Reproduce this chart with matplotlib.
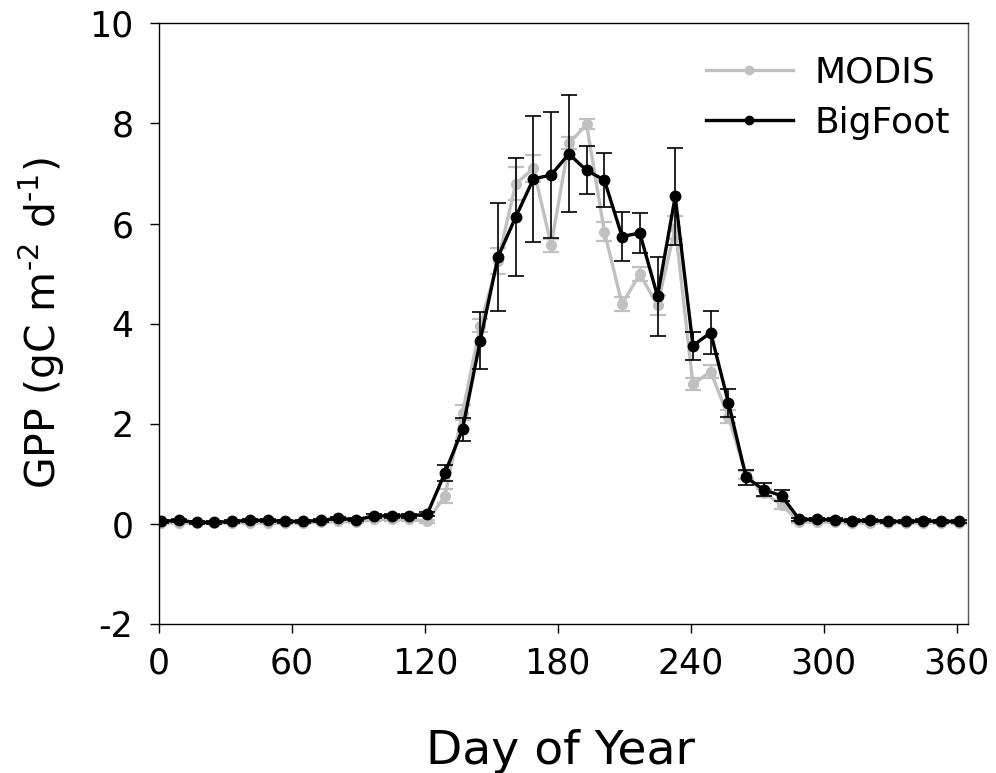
import matplotlib
matplotlib.use("Agg")
import matplotlib.pyplot as plt
from matplotlib.lines import Line2D

plt.rcParams['font.family'] = ['DejaVu Sans']
plt.rcParams['axes.unicode_minus'] = False

days = [1, 9, 17, 25, 33, 41, 49, 57, 65, 73, 81, 89, 97, 105, 113, 121,
        129, 137, 145, 153, 161, 169, 177, 185, 193, 201, 209, 217, 225, 233,
        241, 249, 257, 265, 273, 281, 289, 297, 305, 313, 321, 329, 337, 345,
        353, 361]

bigfoot = [0.05, 0.07, 0.03, 0.03, 0.05, 0.07, 0.07, 0.05, 0.05, 0.07, 0.11,
           0.08, 0.16, 0.16, 0.16, 0.19,
           1.01, 1.89, 3.66, 5.33, 6.13, 6.89, 6.97, 7.39, 7.06, 6.87, 5.74,
           5.81, 4.55, 6.54, 3.56, 3.82, 2.42, 0.93, 0.68, 0.56,
           0.09, 0.09, 0.08, 0.06, 0.07, 0.05, 0.05, 0.06, 0.05, 0.05]
bigfoot_err = [0.03] * 12 + [0.04] * 4 + \
    [0.16, 0.23, 0.57, 1.08, 1.17, 1.25, 1.26, 1.17, 0.48, 0.54, 0.48, 0.40,
     0.79, 0.96, 0.28, 0.43, 0.28, 0.15, 0.13, 0.11] + [0.03] * 10

modis = [0.02, 0.02, 0.01, 0.01, 0.02, 0.02, 0.02, 0.02, 0.02, 0.03, 0.05,
         0.04, 0.09, 0.09, 0.09, 0.05,
         0.55, 2.22, 3.96, 5.25, 6.79, 7.10, 5.57, 7.60, 7.98, 5.84, 4.39,
         4.99, 4.37, 5.92, 2.79, 3.04, 2.14, 0.97, 0.62, 0.38,
         0.04, 0.03, 0.03, 0.02, 0.02, 0.02, 0.02, 0.02, 0.02, 0.02]
modis_err = [0.02] * 12 + [0.03] * 4 + \
    [0.14, 0.15, 0.13, 0.26, 0.33, 0.27, 0.13, 0.12, 0.10, 0.19, 0.14, 0.14,
     0.20, 0.22, 0.12, 0.13, 0.13, 0.08, 0.08, 0.08] + [0.02] * 10

xticks = [0, 60, 120, 180, 240, 300, 360]
yticks = [-2, 0, 2, 4, 6, 8, 10]

fig = plt.figure(figsize=(9.96, 7.73), dpi=100)
ax = fig.add_axes([0.1596, 0.1928, 0.9716 - 0.1596, 0.9699 - 0.1928])

grey = '#c0c0c0'
ax.errorbar(days, modis, yerr=modis_err, color=grey, lw=2.4, marker='o',
            ms=7, mec=grey, mfc=grey, ecolor=grey, elinewidth=1.6,
            capsize=6, capthick=1.6, zorder=2)
ax.errorbar(days, bigfoot, yerr=bigfoot_err, color='black', lw=2.4,
            marker='o', ms=7.5, ecolor='black', elinewidth=1.2, capsize=6,
            capthick=1.2, zorder=3)

ax.set_xlim(0, 365)
ax.set_ylim(-2, 10)
ax.set_xticks(xticks)
ax.set_yticks(yticks)
ax.tick_params(axis='both', direction='out', length=6.5, width=1,
               labelsize=25)
ax.tick_params(axis='x', pad=10)
ax.tick_params(axis='y', pad=12)
for s in ax.spines.values():
    s.set_linewidth(1)
ax.spines['right'].set_color('#555555')

fig.text(560 / 996, (773 - 764) / 773, 'Day of Year', fontsize=34,
         ha='center', va='baseline')
ax.set_ylabel('GPP (gC m$^{\u20102}$ d$^{\u20101}$)', fontsize=29.5,
              labelpad=16)

handles = [Line2D([], [], color=grey, lw=2.4, marker='o', ms=6),
           Line2D([], [], color='black', lw=2.4, marker='o', ms=6)]
ax.legend(handles, ['MODIS', 'BigFoot'], loc='upper right', frameon=False,
          fontsize=26, handlelength=2.4, handletextpad=0.6,
          borderaxespad=0.5, labelspacing=0.45, bbox_to_anchor=(1.018, 1.0))

fig.savefig('out.png', dpi=100)
